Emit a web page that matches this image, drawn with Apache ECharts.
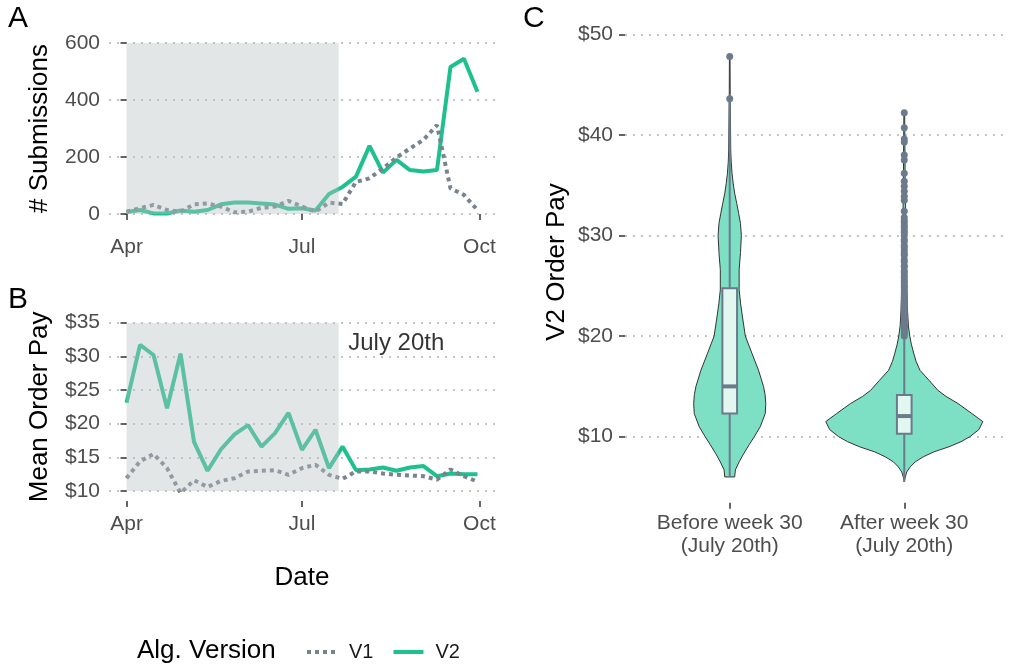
<!DOCTYPE html>
<html>
<head>
<meta charset="utf-8">
<script src="https://cdn.jsdelivr.net/npm/echarts@6/dist/echarts.min.js"></script>
<style>
html,body{margin:0;padding:0;background:#fff}
#main{width:1009px;height:668px}
</style>
</head>
<body>
<div id="main"></div>
<script>
var chart = echarts.init(document.getElementById('main'));

// weekly data, Apr -> Sep
var weeks = ['2018-04-01','2018-04-08','2018-04-15','2018-04-22','2018-04-29','2018-05-06','2018-05-13',
  '2018-05-20','2018-05-27','2018-06-03','2018-06-10','2018-06-17','2018-06-24','2018-07-01','2018-07-08',
  '2018-07-15','2018-07-22','2018-07-29','2018-08-05','2018-08-12','2018-08-19','2018-08-26','2018-09-02',
  '2018-09-09','2018-09-16','2018-09-23','2018-09-30'];
var subsV1 = [8,20,32,14,8,34,37,26,6,8,22,26,46,26,8,40,35,113,125,160,198,230,260,312,90,67,14];
var subsV2 = [7,14,2,2,12,8,14,34,40,40,37,33,18,20,12,70,95,131,239,145,190,154,149,154,516,545,429];
var payV1 = [11.9,14.4,15.5,13.4,9.7,11.6,10.6,11.5,11.9,12.9,13.0,13.1,12.4,13.4,13.9,12.4,11.8,12.9,12.9,12.6,12.4,12.3,12.2,11.7,13.2,12.2,11.4];
var payV2 = [23.1,31.7,30.2,22.3,30.4,17.3,13.0,16.2,18.4,19.8,16.6,18.6,21.6,16.1,19.1,13.4,16.6,13.1,13.2,13.5,13.0,13.5,13.7,12.2,12.6,12.5,12.5];

var monthTicks = ['2018-04-01','2018-07-01','2018-10-01'];
var monthLabels = ['Apr','Jul','Oct'];
var switchDate = '2018-07-20';
var shadeA = [0, 600];
var shadeB = [10, 35];
var noteText = 'July 20th';
var notePos = ['2018-07-25', 32];

// panel C
var groups = ['Before week 30\n(July 20th)', 'After week 30\n(July 20th)'];
var violinPay = [
  [6.0,6.7,7.5,8.3,9.2,10,11,12.3,13.3,14.2,15,16.6,18.3,20,21.6,23.2,24.6,26.6,28.3,30,31.2,32.2,33.2,34.2,35.2,36.2,37.3,38.5,41.8,44,47.8],
  [5.5,6.0,6.5,7.0,7.5,8.0,8.5,9.0,9.5,10.0,10.7,11.5,12.3,13.3,14.0,14.6,15.6,16.6,17.5,18.3,19.2,20,21,22.5,25,28,31,34,38,42.2]
];
var violinDensity = [
  [0.063,0.072,0.12,0.177,0.247,0.313,0.389,0.452,0.459,0.45,0.43,0.367,0.282,0.199,0.168,0.139,0.12,0.12,0.137,0.148,0.137,0.114,0.089,0.063,0.044,0.029,0.019,0.013,0.009,0.006,0.004],
  [0,0.013,0.032,0.076,0.139,0.241,0.38,0.57,0.722,0.835,0.949,1,0.861,0.684,0.532,0.43,0.316,0.2,0.15,0.12,0.09,0.07,0.053,0.042,0.031,0.023,0.018,0.013,0.009,0.005]
];
// min, q1, median, q3, upper whisker
var boxStats = [[6.0,12.3,15.0,24.75,43.3],[5.5,10.3,12.05,14.15,19.9]];
var outliersBefore = [43.6,47.8];
var outliersAfter = [20.0,20.2,20.4,20.5,20.7,20.9,21.0,21.2,21.5,21.7,21.9,22.0,22.3,22.5,22.8,23.0,23.2,23.5,23.8,
  24.0,24.2,24.5,24.8,25.0,25.3,25.5,25.8,26.0,26.3,26.5,26.9,27.0,27.4,27.6,28.0,28.2,28.5,28.8,29.0,29.4,29.6,
  30.0,30.3,30.5,30.8,31.0,31.3,31.5,31.8,32.4,33.5,33.9,34.4,34.9,35.4,36.2,37.5,38.0,39.3,39.6,40.7,42.2];

var FONT = '"Liberation Sans", Arial, sans-serif';
var GREEN = '#1ec08e';
var GREY = '#77838f';
var SLATE = '#6b7b8c';

function day(s) { return (Date.parse(s) - Date.parse(weeks[0])) / 86400000; }
var monthDays = monthTicks.map(day);
function pairs(vals) { return vals.map(function (v, i) { return [day(weeks[i]), v]; }); }

var gridLine = { show: true, lineStyle: { color: '#c4c4c4', width: 2, type: [2, 6] } };
var tick = { show: true, length: 6, lineStyle: { color: '#333', width: 1.5 } };
var tickLabel = { color: '#4d4d4d', fontSize: 21, fontFamily: FONT };
var axisName = { color: '#000', fontSize: 26, fontFamily: FONT };

function dateAxis(idx, withName) {
  return {
    type: 'value', gridIndex: idx, min: -9.1, max: 191.1, offset: 10,
    axisLine: { show: false },
    axisTick: Object.assign({ customValues: monthDays }, tick),
    axisLabel: Object.assign({ customValues: monthDays, margin: 13,
      formatter: function (v) { return monthLabels[monthDays.indexOf(v)]; } }, tickLabel),
    splitLine: { show: false },
    name: withName ? 'Date' : '', nameLocation: 'middle', nameGap: 64, nameTextStyle: axisName
  };
}

function shade(xi, range) {
  return {
    type: 'custom', xAxisIndex: xi, yAxisIndex: xi, z: 10, silent: true,
    data: [[day(weeks[0]), day(switchDate)]],
    renderItem: function (params, api) {
      var p0 = api.coord([api.value(0), range[1]]);
      var p1 = api.coord([api.value(1), range[0]]);
      return { type: 'rect', shape: { x: p0[0], y: p0[1], width: p1[0] - p0[0], height: p1[1] - p0[1] },
        style: { fill: 'rgba(185,192,192,0.4)' } };
    }
  };
}

function line(name, xi, vals) {
  var dotted = name === 'V1';
  return {
    name: name, type: 'line', xAxisIndex: xi, yAxisIndex: xi, data: pairs(vals),
    symbol: 'none', clip: false, z: dotted ? 4 : 3,
    lineStyle: { color: dotted ? GREY : GREEN, width: 4, type: dotted ? [4, 4] : 'solid', cap: 'butt' },
    itemStyle: { color: dotted ? GREY : GREEN }
  };
}

var options = {
  animation: false,
  textStyle: { fontFamily: FONT },
  grid: [
    { left: 109, top: 43, width: 386, height: 171 },
    { left: 109, top: 322.7, width: 386, height: 168.3 },
    { left: 625, top: 34.3, width: 387, height: 402.4 }
  ],
  xAxis: [
    dateAxis(0, false),
    dateAxis(1, true),
    {
      type: 'value', gridIndex: 2, min: 0.4, max: 2.6, offset: 66,
      axisLine: { show: false },
      axisTick: Object.assign({ customValues: [1, 2] }, tick),
      axisLabel: Object.assign({ customValues: [1, 2], margin: 9, lineHeight: 23,
        formatter: function (v) { return groups[v - 1]; } }, tickLabel),
      splitLine: { show: false }
    }
  ],
  yAxis: [
    { type: 'value', gridIndex: 0, min: 0, max: 600, interval: 200,
      axisLine: { show: false }, axisTick: tick, axisLabel: Object.assign({ margin: 9 }, tickLabel), splitLine: gridLine,
      name: '# Submissions', nameLocation: 'middle', nameGap: 56, nameTextStyle: axisName },
    { type: 'value', gridIndex: 1, min: 10, max: 35, interval: 5,
      axisLine: { show: false }, axisTick: tick,
      axisLabel: Object.assign({ margin: 9, formatter: '${value}' }, tickLabel), splitLine: gridLine,
      name: 'Mean Order Pay', nameLocation: 'middle', nameGap: 56, nameTextStyle: axisName },
    { type: 'value', gridIndex: 2, min: 10, max: 50, interval: 10,
      axisLine: { show: false }, axisTick: tick,
      axisLabel: Object.assign({ margin: 12, formatter: '${value}' }, tickLabel), splitLine: gridLine }
  ],
  legend: {
    left: 300, top: 637, itemWidth: 30, itemHeight: 14, itemGap: 18, selectedMode: false,
    data: ['V1', 'V2'],
    itemStyle: { opacity: 0 },
    lineStyle: { width: 4 },
    textStyle: { fontSize: 20, color: '#1a1a1a', fontFamily: FONT, padding: [0, 0, 0, 7] }
  },
  graphic: [
    { type: 'text', x: 8, y: 19, style: { text: 'A', font: '30px ' + FONT, fill: '#000', verticalAlign: 'middle' } },
    { type: 'text', x: 8, y: 300, style: { text: 'B', font: '30px ' + FONT, fill: '#000', verticalAlign: 'middle' } },
    { type: 'text', x: 523, y: 19, style: { text: 'C', font: '30px ' + FONT, fill: '#000', verticalAlign: 'middle' } },
    { type: 'text', x: 137, y: 651, style: { text: 'Alg. Version', font: '26px ' + FONT, fill: '#000', verticalAlign: 'middle' } },
    { type: 'text', x: 557, y: 262, rotation: Math.PI / 2,
      style: { text: 'V2 Order Pay', font: '26px ' + FONT, fill: '#000', align: 'center', verticalAlign: 'middle' } }
  ],
  series: [
    line('V2', 0, subsV2),
    line('V1', 0, subsV1),
    shade(0, shadeA),
    line('V2', 1, payV2),
    line('V1', 1, payV1),
    shade(1, shadeB),
    {
      type: 'scatter', xAxisIndex: 1, yAxisIndex: 1, symbolSize: 0, silent: true,
      data: [[day(notePos[0]), notePos[1]]],
      label: { show: true, position: [0, 0], align: 'left', verticalAlign: 'middle',
        formatter: noteText, fontSize: 24, color: '#000', fontFamily: FONT }
    },
    {
      type: 'custom', xAxisIndex: 2, yAxisIndex: 2, z: 2, silent: true,
      data: [[1], [2]],
      renderItem: function (params, api) {
        var g = params.dataIndex, xc = api.value(0), hw = 0.45, pts = [], i;
        for (i = 0; i < violinPay[g].length; i++) pts.push(api.coord([xc + violinDensity[g][i] * hw, violinPay[g][i]]));
        for (i = violinPay[g].length - 1; i >= 0; i--) pts.push(api.coord([xc - violinDensity[g][i] * hw, violinPay[g][i]]));
        return { type: 'polygon', shape: { points: pts }, style: { fill: '#7ddfc3', stroke: '#333', lineWidth: 1 } };
      }
    },
    {
      type: 'custom', xAxisIndex: 2, yAxisIndex: 2, z: 3, silent: true,
      data: boxStats.map(function (s, i) { return [i + 1].concat(s); }),
      renderItem: function (params, api) {
        var xc = api.value(0), bw = 0.042;
        var lo = api.coord([xc, api.value(1)]), q1 = api.coord([xc - bw, api.value(2)]);
        var md = api.coord([xc, api.value(3)]), q3 = api.coord([xc + bw, api.value(4)]);
        var hi = api.coord([xc, api.value(5)]);
        var st = { stroke: SLATE, lineWidth: 2 };
        return { type: 'group', children: [
          { type: 'line', shape: { x1: lo[0], y1: lo[1], x2: lo[0], y2: q1[1] }, style: st },
          { type: 'line', shape: { x1: hi[0], y1: hi[1], x2: hi[0], y2: q3[1] }, style: st },
          { type: 'rect', shape: { x: q1[0], y: q3[1], width: q3[0] - q1[0], height: q1[1] - q3[1] },
            style: { fill: '#e2f7f0', stroke: SLATE, lineWidth: 2 } },
          { type: 'line', shape: { x1: q1[0], y1: md[1], x2: q3[0], y2: md[1] }, style: { stroke: SLATE, lineWidth: 4 } }
        ] };
      }
    },
    {
      type: 'scatter', xAxisIndex: 2, yAxisIndex: 2, z: 4, silent: true, symbolSize: 7,
      itemStyle: { color: SLATE, opacity: 1 },
      data: outliersBefore.map(function (v) { return [1, v]; }).concat(outliersAfter.map(function (v) { return [2, v]; }))
    }
  ]
};
chart.setOption(options);
</script>
</body>
</html>
